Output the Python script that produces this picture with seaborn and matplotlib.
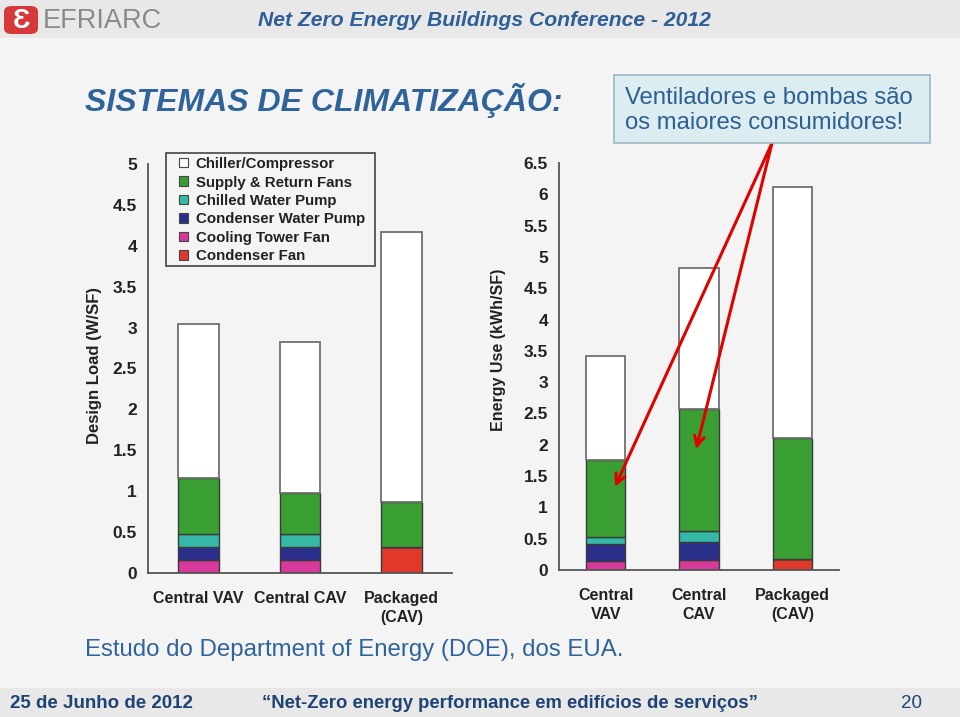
# Slide: SISTEMAS DE CLIMATIZAÇÃO - stacked bars for design load and energy use
import numpy as np
import matplotlib.pyplot as plt
import seaborn as sns
from matplotlib.patches import Rectangle, FancyBboxPatch
from matplotlib.ticker import FormatStrFormatter

# ==========================
# Data
# ==========================
components = ["Chiller/Compressor", "Supply & Return Fans", "Chilled Water Pump",
              "Condenser Water Pump", "Cooling Tower Fan", "Condenser Fan"]
comp_colors = ["#ffffff", "#3a9f33", "#35b8a6", "#2b2f8c", "#d8399c", "#e0392b"]

load_systems = ["Central VAV", "Central CAV", "Packaged\n(CAV)"]
load_chiller = [1.88, 1.84, 3.30]
load_fans = [0.68, 0.50, 0.55]
load_chw_pump = [0.16, 0.16, 0.0]
load_cw_pump = [0.16, 0.16, 0.0]
load_tower_fan = [0.16, 0.16, 0.0]
load_cond_fan = [0.0, 0.0, 0.32]

energy_systems = ["Central\nVAV", "Central\nCAV", "Packaged\n(CAV)"]
energy_chiller = [1.66, 2.25, 4.01]
energy_fans = [1.22, 1.95, 1.94]
energy_chw_pump = [0.12, 0.17, 0.0]
energy_cw_pump = [0.26, 0.29, 0.0]
energy_tower_fan = [0.15, 0.16, 0.0]
energy_cond_fan = [0.0, 0.0, 0.17]

load_ticks = np.arange(0, 5.01, 0.5)
energy_ticks = np.arange(0, 6.51, 0.5)

bg = "#f4f4f4"
blue = "#2f6399"
ink = "#222222"

sns.set_style("white")
plt.rcParams['font.family'] = ['Liberation Sans', 'DejaVu Sans']

fig = plt.figure(figsize=(9.6, 7.17), dpi=100, facecolor=bg)


def stacked(ax, systems, layers, ticks, width):
    # draw from the bottom up: condenser fan, tower fan, cw pump, chw pump, fans, chiller
    bottom = np.zeros(len(systems))
    for i in range(len(layers) - 1, -1, -1):
        vals = np.array(layers[i])
        sns.barplot(x=systems, y=vals, bottom=bottom, color=comp_colors[i],
                    width=width, edgecolor="#3a3a3a" if i else "#707070",
                    linewidth=1.0 if i else 1.3, saturation=1, ax=ax)
        bottom = bottom + vals
    ax.set_facecolor("none")
    ax.set_xlim(-0.5, 2.5)
    ax.set_ylim(0, ticks[-1])
    ax.set_yticks(ticks)
    ax.yaxis.set_major_formatter(FormatStrFormatter("%g"))
    ax.set_xticks(range(len(systems)))
    ax.set_xticklabels(systems, fontweight="bold", fontsize=11.5, color=ink, linespacing=1.35)
    ax.set_xticks([-0.5, 0.5, 1.5, 2.5], minor=True)
    ax.tick_params(axis="x", which="major", length=0, pad=13)
    ax.tick_params(axis="x", which="minor", length=5, width=1.2, color="#555555", direction="out")
    ax.tick_params(axis="y", length=5, width=1.2, color="#555555", direction="out", pad=3,
                   labelsize=12.5)
    for lab in ax.get_yticklabels():
        lab.set_fontweight("bold")
        lab.set_color(ink)
    sns.despine(ax=ax)
    for s in ("left", "bottom"):
        ax.spines[s].set_color("#555555")
        ax.spines[s].set_linewidth(1.3)
    ax.set_xlabel("")


# Left chart: design load
ax1 = fig.add_axes([148 / 960, 1 - 573 / 717, 304 / 960, 409 / 717])
stacked(ax1, load_systems,
        [load_chiller, load_fans, load_chw_pump, load_cw_pump, load_tower_fan, load_cond_fan],
        load_ticks, 0.4)
ax1.set_ylabel("Design Load (W/SF)", fontweight="bold", fontsize=12, color=ink)
ax1.yaxis.set_label_coords(-0.15, 0.508)

# Right chart: energy use
ax2 = fig.add_axes([559 / 960, 1 - 570 / 717, 280 / 960, 407 / 717])
stacked(ax2, energy_systems,
        [energy_chiller, energy_fans, energy_chw_pump, energy_cw_pump, energy_tower_fan, energy_cond_fan],
        energy_ticks, 0.42)
ax2.set_ylabel("Energy Use (kWh/SF)", fontweight="bold", fontsize=11.5, color=ink)
ax2.yaxis.set_label_coords(-0.19, 0.54)

# Legend in the left chart (frame drawn separately for a wider left margin)
fig.patches.append(Rectangle((166 / 960, 1 - 266 / 717), 209 / 960, 113 / 717,
                             transform=fig.transFigure, facecolor=bg,
                             edgecolor="#444444", linewidth=1.2, zorder=3))
handles = [Rectangle((0, 0), 1, 1, facecolor=c, edgecolor="#444444", linewidth=0.8) for c in comp_colors]
leg = fig.legend(handles, components, loc="upper left", bbox_to_anchor=(176 / 960, 1 - 154 / 717),
                 prop={"weight": "bold", "size": 10.8}, frameon=False,
                 handlelength=0.6, handleheight=0.6, handletextpad=0.5, labelspacing=0.3,
                 borderpad=0.2, borderaxespad=0)
leg.set_zorder(4)
for t in leg.get_texts():
    t.set_color(ink)

# Header and footer bars
fig.patches.append(Rectangle((0, 1 - 38 / 717), 1, 38 / 717, transform=fig.transFigure,
                             facecolor="#e8e8e8", edgecolor="none", zorder=0))
fig.patches.append(Rectangle((0, 0), 1, 29 / 717, transform=fig.transFigure,
                             facecolor="#e8e8e8", edgecolor="none", zorder=0))

# Logo
fig.patches.append(FancyBboxPatch((4 / 960, 1 - 34 / 717), 34 / 960, 28 / 717,
                                  boxstyle="round,pad=0,rounding_size=0.008",
                                  transform=fig.transFigure, facecolor="#d7383a",
                                  edgecolor="none", zorder=1))
fig.text(21 / 960, 1 - 21 / 717, "Ɛ", fontsize=20, fontweight="bold", color="white",
         va="center", ha="center", zorder=2)
fig.text(43 / 960, 1 - 21 / 717, "EFRIARC", fontsize=19.5, color="#8a8a8a",
         va="center", ha="left")
fig.text(258 / 960, 1 - 20 / 717, "Net Zero Energy Buildings Conference - 2012",
         fontsize=15.2, fontweight="bold", fontstyle="italic", color="#2e5f96",
         va="center", ha="left")

# Title
fig.text(85 / 960, 1 - 100 / 717, "SISTEMAS DE CLIMATIZAÇÃO:", fontsize=23,
         fontweight="bold", fontstyle="italic", color=blue, va="center", ha="left")

# Callout box
fig.patches.append(Rectangle((614 / 960, 1 - 143 / 717), 316 / 960, 68 / 717,
                             transform=fig.transFigure, facecolor="#dcedf2",
                             edgecolor="#9ab8c4", linewidth=1.2, zorder=1))
fig.text(625 / 960, 1 - 110.5 / 717, "Ventiladores e bombas são\nos maiores consumidores!",
         fontsize=17.2, color="#2f5f8f", va="center", ha="left", linespacing=1.2, zorder=2)

# Red arrows from the callout to the fan segments
for tip in [(0.1, 1.33), (0.97, 1.93)]:
    ax2.annotate("", xy=tip, xycoords="data", xytext=(772 / 960, 1 - 143 / 717),
                 textcoords="figure fraction",
                 arrowprops=dict(arrowstyle="->,head_length=0.7,head_width=0.35",
                                 color="#e00000", lw=2.2, shrinkA=0, shrinkB=0))

# Source note
fig.text(85 / 960, 1 - 650 / 717, "Estudo do Department of Energy (DOE), dos EUA.",
         fontsize=17.3, color=blue, va="center", ha="left")

# Footer
fig.text(10 / 960, 1 - 704 / 717, "25 de Junho de 2012", fontsize=13.5, fontweight="bold",
         color="#1f4373", va="center", ha="left")
fig.text(262 / 960, 1 - 704 / 717, "\u201cNet-Zero energy performance em edifícios de serviços\u201d",
         fontsize=13.3, fontweight="bold", color="#1f4373", va="center", ha="left")
fig.text(922 / 960, 1 - 704 / 717, "20", fontsize=13.5, color="#1f4373",
         va="center", ha="right")

fig.savefig("out.png", dpi=100, facecolor=bg)
